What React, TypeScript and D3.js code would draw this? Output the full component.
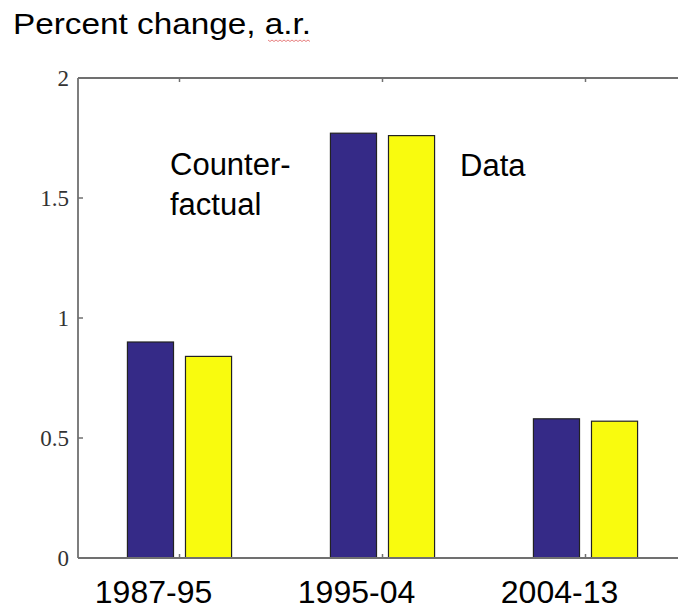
import React from "react";
import * as d3 from "d3";

const categories = ["1987-95", "1995-04", "2004-13"];
const counterfactual = [0.9, 1.77, 0.58];
const data = [0.84, 1.76, 0.57];
const yTicks = [0, 0.5, 1, 1.5, 2];
const yTickLabels = ["0", "0.5", "1", "1.5", "2"];
const title = "Percent change, a.r.";
const seriesLabels = ["Counter-", "factual", "Data"];

const W = 678;
const H = 609;

export default function App() {
  const x = d3.scaleLinear().domain([0.5, 3.5]).range([78, 687]);
  const y = d3.scaleLinear().domain([0, 2]).range([558, 78]);
  const off = d3.scaleLinear().domain([0, 1]).range([0, 203]);
  const barW = off(0.227);
  const series = [
    { vals: counterfactual, fill: "#352a87", dx: -0.143 },
    { vals: data, fill: "#f9fb0e", dx: 0.143 },
  ];
  const frame = "#707070";
  const sans = "'Liberation Sans', Arial, sans-serif";
  const serif = "'Liberation Serif', 'Times New Roman', serif";

  // squiggle under "a.r."
  const sq: [number, number][] = [];
  for (let px = 268; px <= 311; px += 2) sq.push([px, 40 + ((px / 2) % 2 === 0 ? 0 : 1.5)]);
  const sqPath = d3.line()(sq) || "";

  return (
    <svg width={W} height={H} style={{ position: "absolute", left: 0, top: 0, background: "#fff" }}>
      <text x={13} y={34} fontFamily={sans} fontSize={29} fill="#000" textLength={298} lengthAdjust="spacingAndGlyphs">
        {title}
      </text>
      <path d={sqPath} stroke="#e06060" strokeWidth={0.8} fill="none" />

      {series.map((s, si) =>
        s.vals.map((v, i) => {
          const cx = x(i + 1) + off(s.dx);
          return (
            <rect
              key={si + "-" + i}
              x={cx - barW / 2}
              y={y(v)}
              width={barW}
              height={y(0) - y(v)}
              fill={s.fill}
              stroke="#222"
              strokeWidth={1.2}
            />
          );
        })
      )}

      {/* frame */}
      <line x1={78} x2={W + 10} y1={y(0)} y2={y(0)} stroke={frame} strokeWidth={1.8} />
      <line x1={78} x2={W + 10} y1={y(2)} y2={y(2)} stroke={frame} strokeWidth={1.8} />
      <line x1={78} x2={78} y1={y(2)} y2={y(0)} stroke={frame} strokeWidth={1.8} />

      {yTicks.map((t, i) => (
        <g key={"yt" + i}>
          <line x1={78} x2={83} y1={y(t)} y2={y(t)} stroke={frame} strokeWidth={1.5} />
          <text x={69} y={y(t)} dy="0.35em" textAnchor="end" fontFamily={serif} fontSize={23} fill="#333">
            {yTickLabels[i]}
          </text>
        </g>
      ))}

      {categories.map((c, i) => (
        <g key={"xt" + i}>
          <line x1={x(i + 1)} x2={x(i + 1)} y1={y(0)} y2={y(0) - 4} stroke={frame} strokeWidth={1.5} />
          <line x1={x(i + 1)} x2={x(i + 1)} y1={y(2)} y2={y(2) + 4} stroke={frame} strokeWidth={1.5} />
          <text x={x(i + 1) - 26} y={603} textAnchor="middle" fontFamily={sans} fontSize={32} fill="#000">
            {c}
          </text>
        </g>
      ))}

      <text x={170} y={175} fontFamily={sans} fontSize={31} fill="#000">{seriesLabels[0]}</text>
      <text x={170} y={215} fontFamily={sans} fontSize={31} fill="#000">{seriesLabels[1]}</text>
      <text x={460} y={176} fontFamily={sans} fontSize={31} fill="#000">{seriesLabels[2]}</text>
    </svg>
  );
}
